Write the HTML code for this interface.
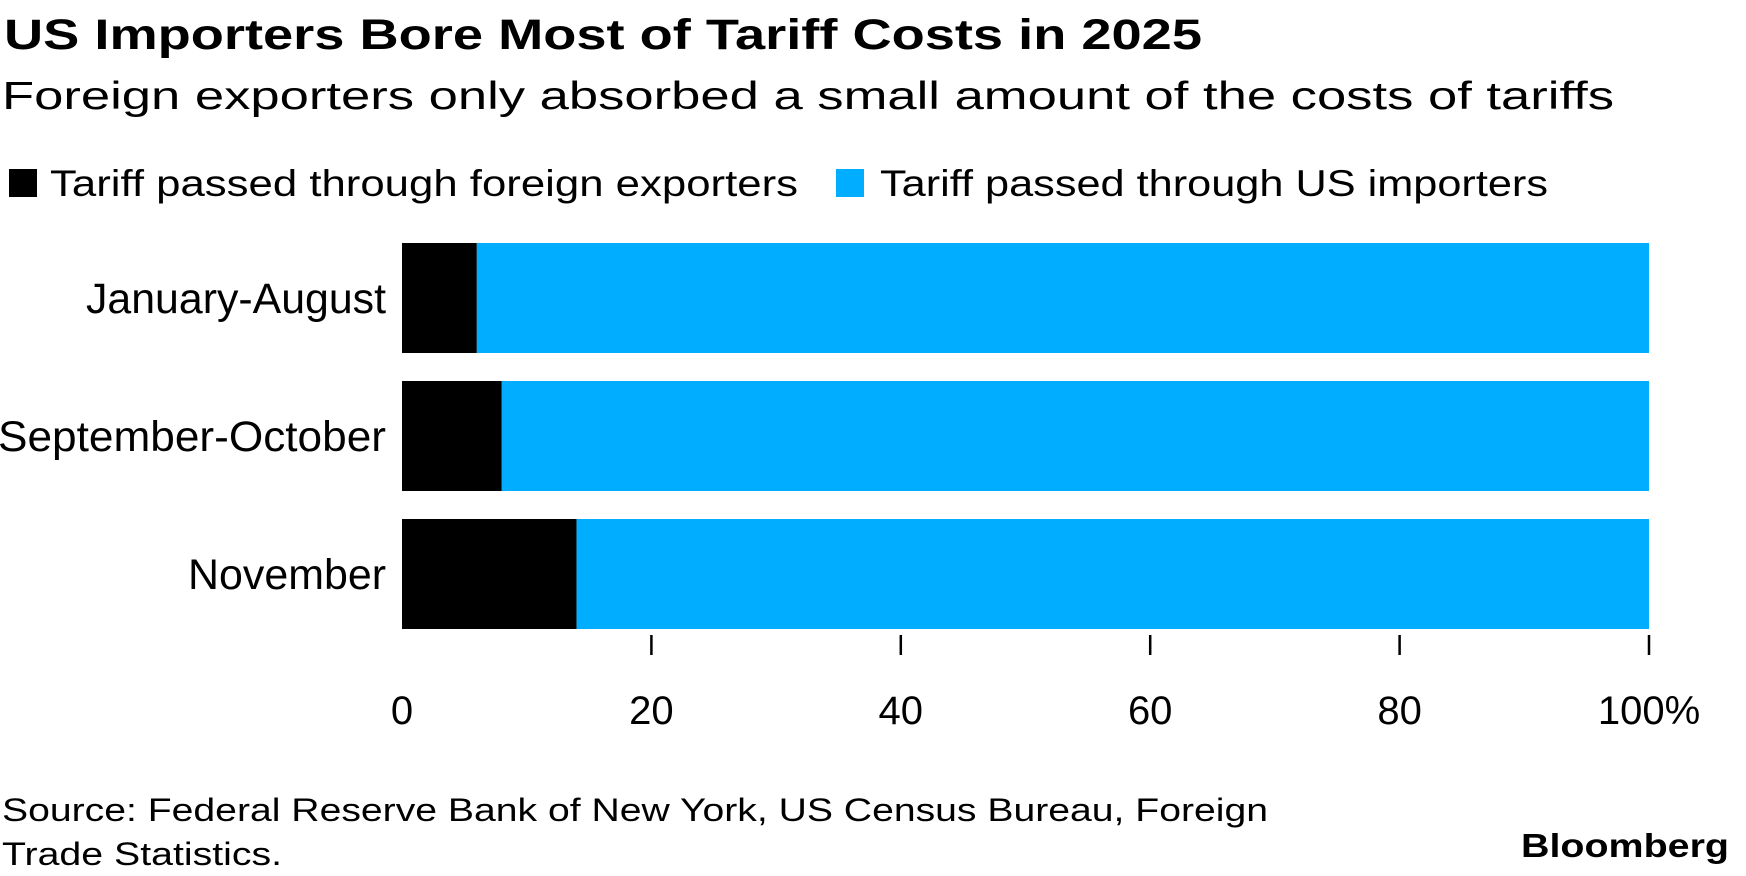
<!DOCTYPE html>
<html><head><meta charset="utf-8">
<style>
html,body{margin:0;padding:0;background:#fff;}
svg{display:block;font-family:"Liberation Sans",Arial,sans-serif;}
</style></head>
<body>
<svg id="chart" width="1746" height="876" viewBox="0 0 1746 876">
  <text x="4" y="49" font-size="43" font-weight="bold" fill="#000" textLength="1198" lengthAdjust="spacingAndGlyphs">US Importers Bore Most of Tariff Costs in 2025</text>
  <text x="2" y="109" font-size="39" fill="#000" textLength="1612" lengthAdjust="spacingAndGlyphs">Foreign exporters only absorbed a small amount of the costs of tariffs</text>
  <g>
    <rect x="9" y="169" width="28" height="28" fill="#000"/>
    <text x="50" y="196" font-size="37" fill="#000" textLength="748" lengthAdjust="spacingAndGlyphs">Tariff passed through foreign exporters</text>
    <rect x="836" y="169" width="28" height="28" fill="#00adff"/>
    <text x="880" y="196" font-size="37" fill="#000" textLength="668" lengthAdjust="spacingAndGlyphs">Tariff passed through US importers</text>
  </g>
  <g id="plot"></g>
  <text x="2" y="821" font-size="32" fill="#000" textLength="1266" lengthAdjust="spacingAndGlyphs">Source: Federal Reserve Bank of New York, US Census Bureau, Foreign</text>
  <text x="2" y="865" font-size="32" fill="#000" textLength="280" lengthAdjust="spacingAndGlyphs">Trade Statistics.</text>
  <text x="1729" y="857" font-size="33" font-weight="bold" fill="#000" text-anchor="end" textLength="208" lengthAdjust="spacingAndGlyphs">Bloomberg</text>
</svg>
<script>
const categories = ["January-August", "September-October", "November"];
const foreignShare = [6, 8, 14];
const usShare = [94, 92, 86];
const tickValues = [0, 20, 40, 60, 80, 100];
const tickLabels = ["0", "20", "40", "60", "80", "100%"];
const labelWidths = [300, 388, 198];

const NS = "http://www.w3.org/2000/svg";
const plot = document.getElementById("plot");
const X0 = 402, X1 = 1649;
const xScale = v => X0 + (X1 - X0) * v / 100;
const bandTop = 243, bandStep = 138, barH = 110;
const yScale = i => bandTop + i * bandStep;

function mk(tag, attrs) {
  const el = document.createElementNS(NS, tag);
  for (const k in attrs) el.setAttribute(k, attrs[k]);
  plot.appendChild(el);
  return el;
}

categories.forEach((c, i) => {
  const y = yScale(i);
  const b1 = mk("rect", {x: xScale(0), y: y, width: xScale(foreignShare[i]) - xScale(0), height: barH, fill: "#000"});
  
  
  const b2 = mk("rect", {x: xScale(foreignShare[i]), y: y, width: xScale(foreignShare[i] + usShare[i]) - xScale(foreignShare[i]), height: barH, fill: "#00adff"});
  
  
  const t = mk("text", {x: 386, y: y + barH / 2 + 15, "font-size": 43, "text-anchor": "end", fill: "#000", textLength: labelWidths[i], lengthAdjust: "spacingAndGlyphs"});
  t.textContent = c;
  
  
});

tickValues.forEach((v, i) => {
  const x = xScale(v);
  if (v !== 0) {
    const l = mk("line", {x1: x, x2: x, y1: 635, y2: 655, stroke: "#000", "stroke-width": 2.5});
    
    
  }
  const t = mk("text", {x: x, y: 724, "font-size": 40, "text-anchor": "middle", fill: "#000"});
  t.textContent = tickLabels[i];
  
  
});
</script>
</body></html>
